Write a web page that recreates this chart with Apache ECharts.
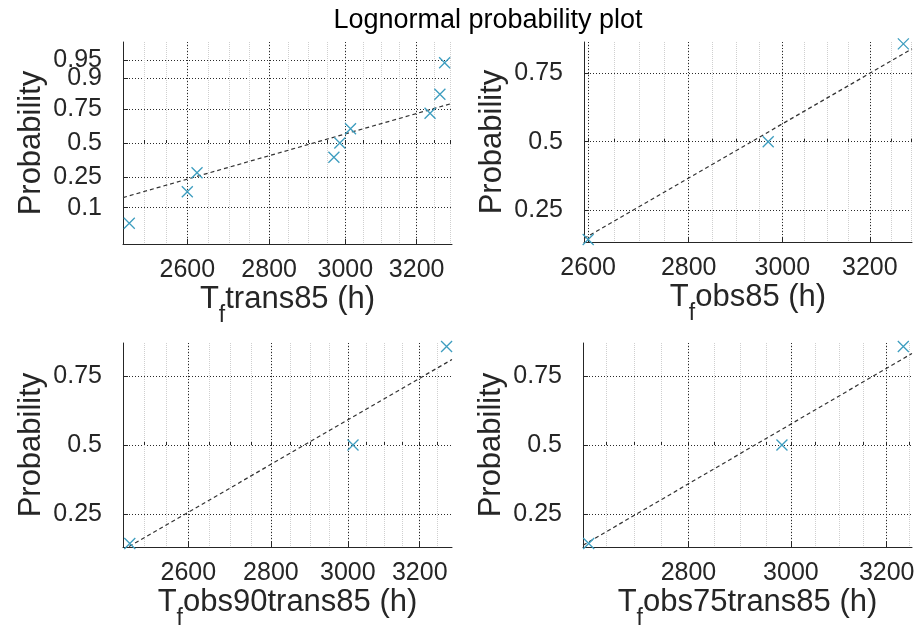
<!DOCTYPE html>
<html>
<head>
<meta charset="utf-8">
<script src="https://cdn.jsdelivr.net/npm/echarts@6/dist/echarts.min.js"></script>
<style>
html,body{margin:0;padding:0;background:#fff;}
#chart{width:919px;height:640px;}
</style>
</head>
<body>
<div id="chart"></div>
<script>
// ---------------- data ----------------
const titleText = 'Lognormal probability plot';
const xNames = ['trans85', 'obs85', 'obs90trans85', 'obs75trans85'];

// failure times (h)
const tTrans85      = [2467, 2600, 2623, 2969, 2985, 3014, 3239, 3268, 3282];
const tObs85        = [2600, 2969, 3280];
const tObs90Trans85 = [2467, 3014, 3278];
const tObs75Trans85 = [2618, 2982, 3236];

// probabilities (plotting positions)
const pTrans85      = [0.056, 0.167, 0.278, 0.389, 0.5, 0.611, 0.722, 0.833, 0.944];
const pObs85        = [0.167, 0.5, 0.833];
const pObs90Trans85 = [0.167, 0.5, 0.833];
const pObs75Trans85 = [0.167, 0.5, 0.833];

// tick labels
const xTicksA = [2600, 2800, 3000, 3200];
const xTicksB = [2800, 3000, 3200];
const pTicksA = [0.1, 0.25, 0.5, 0.75, 0.9, 0.95];
const pTicksB = [0.25, 0.5, 0.75];

// axis limits
const xLim1 = [2453, 3304], xLim2 = [2592, 3301], xLim3 = [2452, 3294], xLim4 = [2608, 3255];
const zLim1 = [-2.0, 2.0], zLim2 = [-0.99, 0.985], zLim3 = [-1.0, 1.0], zLim4 = [-1.0, 1.0];

// ---------------- helpers ----------------
function probit(p){
  const a=[-3.969683028665376e+01,2.209460984245205e+02,-2.759285104469687e+02,1.383577518672690e+02,-3.066479806614716e+01,2.506628277459239e+00];
  const b=[-5.447609879822406e+01,1.615858368580409e+02,-1.556989798598866e+02,6.680131188771972e+01,-1.328068155288572e+01];
  const c=[-7.784894002430293e-03,-3.223964580411365e-01,-2.400758277161838e+00,-2.549671348850431e+00,4.374664141464968e+00,2.938163982698783e+00];
  const d=[7.784695709041462e-03,3.224671290700398e-01,2.445134137142996e+00,3.754408661907416e+00];
  const pl=0.02425, ph=1-pl; let q,r;
  if(p<pl){q=Math.sqrt(-2*Math.log(p));return (((((c[0]*q+c[1])*q+c[2])*q+c[3])*q+c[4])*q+c[5])/((((d[0]*q+d[1])*q+d[2])*q+d[3])*q+1);}
  if(p<=ph){q=p-0.5;r=q*q;return (((((a[0]*r+a[1])*r+a[2])*r+a[3])*r+a[4])*r+a[5])*q/(((((b[0]*r+b[1])*r+b[2])*r+b[3])*r+b[4])*r+1);}
  q=Math.sqrt(-2*Math.log(1-p));return -(((((c[0]*q+c[1])*q+c[2])*q+c[3])*q+c[4])*q+c[5])/((((d[0]*q+d[1])*q+d[2])*q+d[3])*q+1);
}
// MATLAB-style percentile (positions (i-0.5)/n, linear interpolation)
function prctile(vals, q){
  const s = vals.slice().sort((u,v)=>u-v), n = s.length;
  let pos = q*n + 0.5;
  if (pos <= 1) return s[0];
  if (pos >= n) return s[n-1];
  const i = Math.floor(pos), f = pos - i;
  return s[i-1] + f*(s[i]-s[i-1]);
}

const FONT = 'Arial, "Liberation Sans", Helvetica, sans-serif';
const AX = '#262626';
const MARK = '#3d9dbf';

const panels = [
  {t: tTrans85, p: pTrans85, xLim: xLim1, zLim: zLim1, xTicks: xTicksA, pTicks: pTicksA, name: xNames[0], grid:{left:123, top:42, width:329, height:202}},
  {t: tObs85, p: pObs85, xLim: xLim2, zLim: zLim2, xTicks: xTicksA, pTicks: pTicksB, name: xNames[1], grid:{left:584, top:42, width:328, height:200}},
  {t: tObs90Trans85, p: pObs90Trans85, xLim: xLim3, zLim: zLim3, xTicks: xTicksA, pTicks: pTicksB, name: xNames[2], grid:{left:123, top:343, width:329, height:204}},
  {t: tObs75Trans85, p: pObs75Trans85, xLim: xLim4, zLim: zLim4, xTicks: xTicksB, pTicks: pTicksB, name: xNames[3], grid:{left:583, top:343, width:329, height:204}}
];

function probLabel(ticks){
  return v => { let best = ticks[0], bd = 1e9; ticks.forEach(p => { const d = Math.abs(probit(p)-v); if (d < bd) { bd = d; best = p; } }); return String(best); };
}

const grids = [], xAxes = [], yAxes = [], series = [];
panels.forEach((pn, k) => {
  grids.push(Object.assign({containLabel:false}, pn.grid));
  const lmin = Math.log(pn.xLim[0]), lmax = Math.log(pn.xLim[1]);
  const minor = [];
  for (let v = Math.ceil(pn.xLim[0]/50)*50; v <= pn.xLim[1]; v += 50) minor.push(Math.log(v));
  const major = pn.xTicks.map(v => Math.log(v));
  // minor x axis (grid lines + small ticks)
  xAxes.push({
    type:'value', gridIndex:k, min:lmin, max:lmax, position:'bottom',
    axisLine:{show:false}, axisLabel:{show:false},
    axisTick:{show:true, inside:true, length:3, customValues:minor, lineStyle:{color:AX, width:1}},
    splitLine:{show:true, lineStyle:{color:'#cfcfcf', type:[1,1], width:1}}
  });
  // major x axis
  const xIdx = xAxes.length;
  xAxes.push({
    type:'value', gridIndex:k, min:lmin, max:lmax, position:'bottom',
    axisLine:{show:true, onZero:false, lineStyle:{color:AX, width:1}},
    axisTick:{show:true, inside:true, length:5, customValues:major, lineStyle:{color:AX, width:1}},
    axisLabel:{show:true, customValues:major, margin:14, fontSize:25, fontFamily:FONT, color:AX,
      showMinLabel:true, showMaxLabel:true, hideOverlap:false,
      formatter: v => String(Math.round(Math.exp(v)))},
    splitLine:{show:true, lineStyle:{color:'#2a2a2a', type:[1,2], width:1}},
    name:'{a|T}{s|f}{a|' + pn.name + ' (h)}', nameLocation:'middle', nameGap:40,
    nameTextStyle:{fontFamily:FONT, color:AX, fontSize:31,
      rich:{
        a:{fontSize:31, fontFamily:FONT, color:AX, lineHeight:34, verticalAlign:'top'},
        s:{fontSize:23, fontFamily:FONT, color:AX, lineHeight:23, verticalAlign:'top', padding:[20,0,0,0]}
      }}
  });
  // probability ticks split over two coincident y axes so close labels are all kept
  const groups = [pn.pTicks.filter((_, i) => i % 2 === 0), pn.pTicks.filter((_, i) => i % 2 === 1)];
  let yIdx = -1;
  groups.forEach((grp, g) => {
    if (!grp.length) return;
    const zt = grp.map(probit);
    if (g === 0) yIdx = yAxes.length;
    yAxes.push({
      type:'value', gridIndex:k, min:pn.zLim[0], max:pn.zLim[1], position:'left', offset:0,
      axisLine:{show:g === 0, onZero:false, lineStyle:{color:AX, width:1}},
      axisTick:{show:true, inside:true, length:5, customValues:zt, lineStyle:{color:AX, width:1}},
      axisLabel:{show:true, customValues:zt, margin:21, fontSize:25, fontFamily:FONT, color:AX,
        showMinLabel:true, showMaxLabel:true, hideOverlap:false, formatter: probLabel(grp)},
      splitLine:{show:true, lineStyle:{color:'#2a2a2a', type:[1,2], width:1}},
      name: g === 0 ? 'Probability' : '', nameLocation:'middle', nameGap:76,
      nameTextStyle:{fontFamily:FONT, color:AX, fontSize:31}
    });
  });
  // reference line through the quartiles
  const lt = pn.t.map(Math.log);
  const q1 = prctile(lt, 0.25), q3 = prctile(lt, 0.75);
  const z1 = probit(0.25), z3 = probit(0.75);
  const slope = (z3 - z1)/(q3 - q1);
  const zAt = x => z1 + slope*(x - q1);
  series.push({
    type:'line', xAxisIndex:xIdx, yAxisIndex:yIdx, showSymbol:false, silent:true, clip:true,
    data:[[lmin, zAt(lmin)], [lmax, zAt(lmax)]],
    lineStyle:{color:'#333', width:1.2, type:[4,3]}, z:3
  });
  series.push({
    type:'scatter', xAxisIndex:xIdx, yAxisIndex:yIdx, silent:true,
    symbol:'path://M0,0L10,10M10,0L0,10', symbolSize:11,
    itemStyle:{color:'rgba(0,0,0,0)', borderColor:MARK, borderWidth:1.3, opacity:1},
    data: pn.t.map((v,i) => [Math.log(v), probit(pn.p[i])]), z:4
  });
});

const chart = echarts.init(document.getElementById('chart'), null, {renderer:'canvas'});
chart.setOption({
  backgroundColor:'#fff',
  animation:false,
  title:{text:titleText, left:483, top:2, textAlign:'center',
    textStyle:{fontFamily:FONT, fontSize:27, fontWeight:'normal', color:'#000'}},
  grid:grids, xAxis:xAxes, yAxis:yAxes, series:series
});
</script>
</body>
</html>
